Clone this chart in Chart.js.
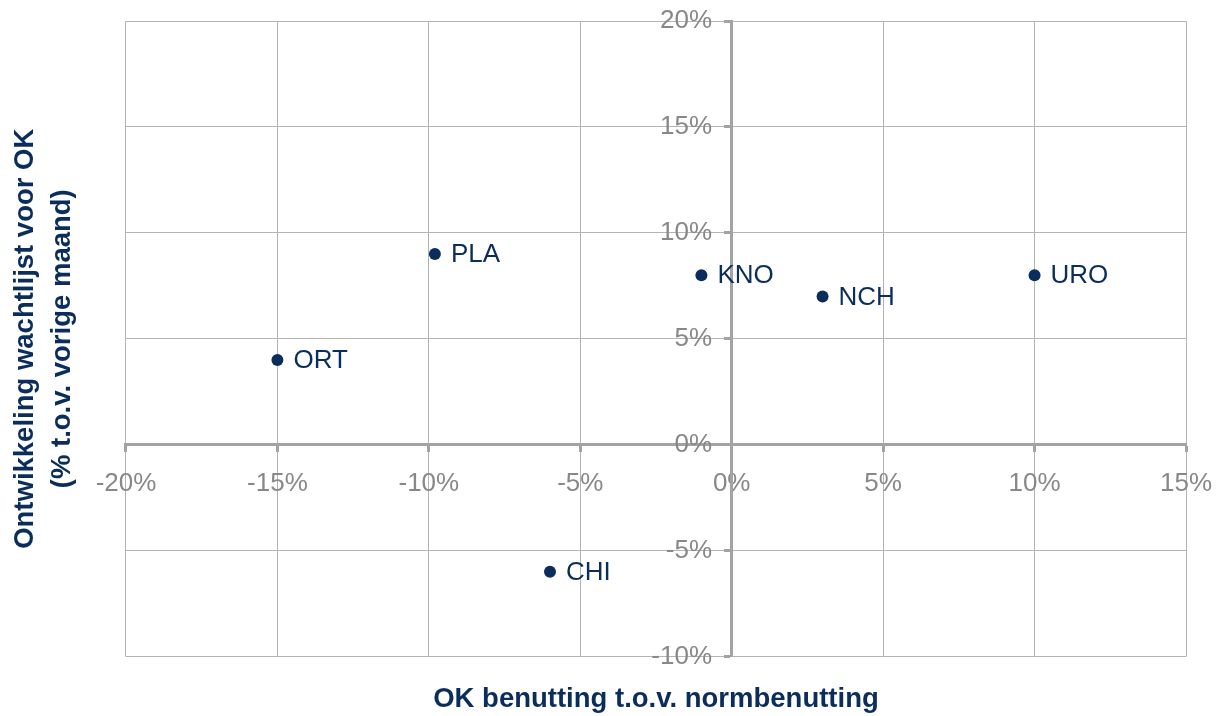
<!DOCTYPE html>
<html>
<head>
<meta charset="utf-8">
<script src="https://cdn.jsdelivr.net/npm/chart.js@4/dist/chart.umd.min.js"></script>
<style>
  body { margin: 0; background: #fff; }
</style>
</head>
<body>
<canvas id="grafico" width="1222" height="716"></canvas>
<script>
// specialismen en hun waarden (in %)
var specialismen = ["ORT", "PLA", "CHI", "KNO", "NCH", "URO"];
var benutting = [-15, -9.8, -6, -1, 3, 10];
var wachtlijst = [4, 9, -6, 8, 7, 8];

var navy = "#0b2d5c";
var grijs = "#a3a3a3";
var fontFam = "'Liberation Sans', Arial, sans-serif";

var punten = [];
for (var i = 0; i < specialismen.length; i++) {
    punten.push({ x: benutting[i], y: wachtlijst[i] });
}

// labels naast de punten
var puntLabels = {
    id: "puntLabels",
    afterDatasetsDraw: function (chart) {
        var ctx = chart.ctx;
        var meta = chart.getDatasetMeta(0);
        ctx.save();
        ctx.font = "26px " + fontFam;
        ctx.fillStyle = navy;
        ctx.textAlign = "left";
        ctx.textBaseline = "middle";
        for (var i = 0; i < meta.data.length; i++) {
            var p = meta.data[i];
            ctx.fillText(specialismen[i], p.x + 16, p.y + 1);
        }
        ctx.restore();
    }
};

// geen extra ruimte voor labels die over de rand steken
function geenPadding(scale) {
    scale.paddingLeft = 0;
    scale.paddingRight = 0;
    scale.paddingTop = 0;
    scale.paddingBottom = 0;
}

var ctx = document.getElementById("grafico");
var chart = new Chart(ctx, {
    type: "scatter",
    data: {
        datasets: [{
            data: punten,
            pointRadius: 6,
            pointHoverRadius: 6,
            backgroundColor: navy,
            borderColor: navy,
            borderWidth: 0
        }]
    },
    options: {
        responsive: false,
        animation: false,
        layout: {
            padding: { left: 0, right: 36, top: 21, bottom: 0 }
        },
        plugins: {
            legend: { display: false },
            tooltip: { enabled: false },
            title: {
                display: true,
                position: "left",
                fullSize: false,
                text: ["Ontwikkeling wachtlijst voor OK", "(% t.o.v. vorige maand)"],
                color: navy,
                font: { family: fontFam, size: 27.5, weight: "bold", lineHeight: 1.345 },
                padding: { top: 6.5, bottom: 45.5 }
            },
            subtitle: {
                display: true,
                position: "bottom",
                fullSize: false,
                text: "OK benutting t.o.v. normbenutting",
                color: navy,
                font: { family: fontFam, size: 27.5, weight: "bold", lineHeight: 1.2 },
                padding: { top: 26.5, bottom: 0 }
            }
        },
        scales: {
            x: {
                type: "linear",
                position: { y: 0 },
                min: -20,
                max: 15,
                afterFit: geenPadding,
                ticks: {
                    stepSize: 5,
                    padding: 18,
                    color: "#888888",
                    font: { family: fontFam, size: 26 },
                    callback: function (v) { return v + "%"; }
                },
                grid: {
                    color: "#b4b4b4",
                    lineWidth: 1,
                    tickLength: 6,
                    tickWidth: 3,
                    tickColor: grijs
                },
                border: { color: grijs, width: 3 }
            },
            y: {
                type: "linear",
                position: { x: 0 },
                min: -10,
                max: 20,
                afterFit: geenPadding,
                ticks: {
                    stepSize: 5,
                    color: "#888888",
                    font: { family: fontFam, size: 26 },
                    // spaties achteraan: label blijft los van de as
                    callback: function (v) { return v + "%  \u2009"; }
                },
                grid: {
                    color: "#b4b4b4",
                    lineWidth: 1,
                    tickLength: 6,
                    tickWidth: 3,
                    tickColor: grijs
                },
                border: { color: grijs, width: 3 }
            }
        }
    },
    plugins: [puntLabels]
});
</script>
</body>
</html>
